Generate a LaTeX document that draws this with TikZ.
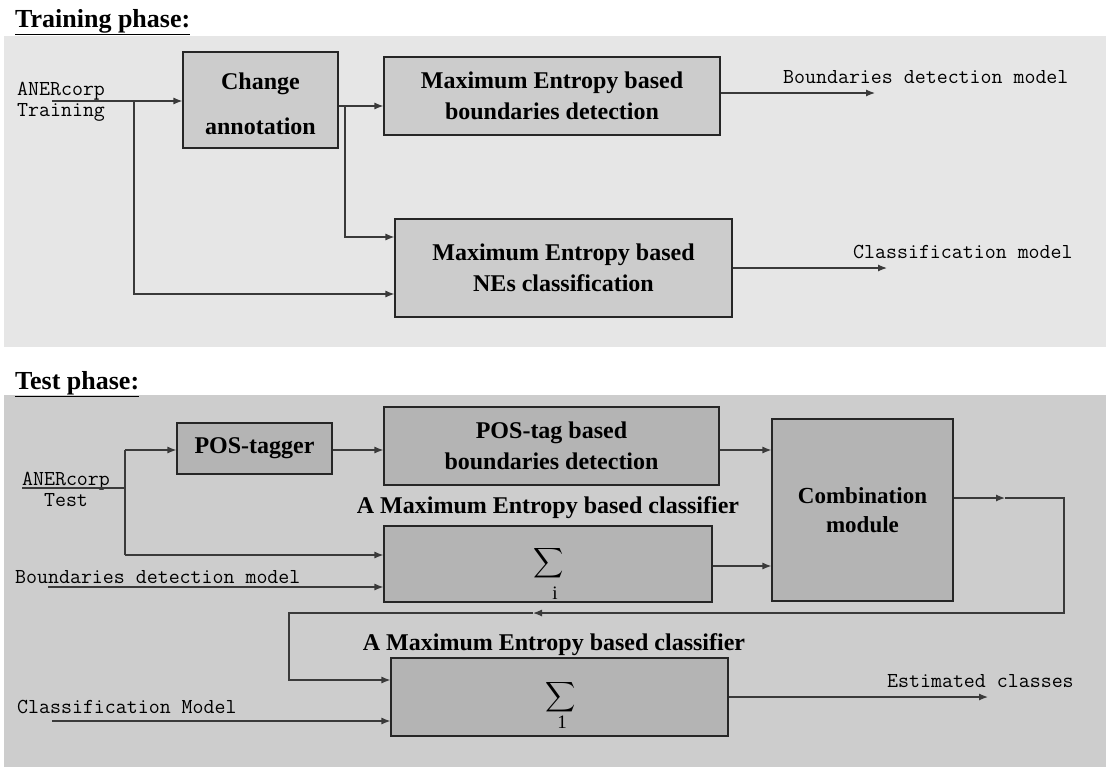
\documentclass[tikz,border=0pt]{standalone}
\usepackage{graphicx}
\usepackage{fontspec}
\setmainfont{Liberation Serif}
\usetikzlibrary{arrows.meta}

\definecolor{trainbg}{HTML}{E6E6E6}
\definecolor{trainbox}{HTML}{CCCCCC}
\definecolor{testbg}{HTML}{CDCDCD}
\definecolor{testbox}{HTML}{B4B4B4}
\definecolor{wire}{HTML}{3A3A3A}

\tikzset{
  box/.style={draw=black!85, line width=1.1pt, inner sep=0pt, align=center,
              font=\bfseries\fontsize{24}{31}\selectfont},
  trbox/.style={box, fill=trainbox},
  tsbox/.style={box, fill=testbox},
  io/.style={inner sep=0pt, font=\ttfamily\fontsize{21.3}{21}\selectfont},
  heading/.style={inner sep=0pt, anchor=base west, font=\bfseries\fontsize{26}{30}\selectfont},
  caption/.style={inner sep=0pt, font=\bfseries\fontsize{24}{28}\selectfont},
  wireline/.style={draw=wire, line width=1.2pt},
  flow/.style={wireline, -{Latex[length=9pt,width=7pt]}},
  sigmamark/.style={inner sep=0pt},
  idx/.style={inner sep=0pt, font=\fontsize{19}{19}\selectfont}
}
\newcommand{\bigsigma}{\scalebox{2.1}{$\displaystyle\sum$}}

\begin{document}
\begin{tikzpicture}[x=1pt, y=-1pt]
  \useasboundingbox (0,0) rectangle (1106,769);

  % ---------------- training phase ----------------
  \fill[trainbg] (4,36) rectangle (1106,347);
  \node[heading] (ttrain) at (15,27) {\underline{Training phase:}};

  \node[trbox, minimum width=155pt, minimum height=96pt]
    (ca) at (260.5,100)
    {\raisebox{-6pt}[\height][\depth]{\begin{tabular}{@{}c@{}}Change\\[14pt]annotation\end{tabular}}};
  \node[trbox, minimum width=336pt, minimum height=78pt]
    (mebd) at (552,96) {Maximum Entropy based\\boundaries detection};
  \node[trbox, minimum width=337pt, minimum height=98pt]
    (nec) at (563.5,268) {Maximum Entropy based\\NEs classification};

  \node[io, anchor=west, align=left] (intrain) at (17,102) {ANERcorp\\Training};
  \node[io, anchor=west] (lbd) at (783,77) {Boundaries detection model};
  \node[io, anchor=west] (lcm) at (853,252) {Classification model};

  \coordinate (ti0) at (52,101);
  \coordinate (ti1) at (134,101);
  \coordinate (ti2) at (134,294);
  \coordinate (tc1) at (345,106);
  \coordinate (tc2) at (345,237);
  \coordinate (ob) at (875,93);
  \coordinate (oc) at (887,268);

  \draw[flow] (ti0) -- (ca.west |- ti0);
  \draw[flow] (ti1) -- (ti2) -- (nec.west |- ti2);
  \draw[flow] (ca.east |- tc1) -- (mebd.west |- tc1);
  \draw[flow] (tc1) -- (tc2) -- (nec.west |- tc2);
  \draw[flow] (mebd.east |- ob) -- (ob);
  \draw[flow] (nec.east |- oc) -- (oc);

  % ---------------- test phase ----------------
  \fill[testbg] (4,395) rectangle (1106,767);
  \node[heading] (ttest) at (15,389) {\underline{Test phase:}};

  \node[tsbox, minimum width=155pt, minimum height=51pt] (pos) at (254.5,448.5) {POS-tagger};
  \node[tsbox, minimum width=335pt, minimum height=78pt]
    (ptb) at (551.5,446) {POS-tag based\\boundaries detection};
  \node[tsbox, minimum width=328pt, minimum height=76pt] (cl1) at (548,564) {};
  \node[tsbox, minimum width=181pt, minimum height=182pt, font=\bfseries\fontsize{23}{29}\selectfont]
    (cm) at (862.5,510) {Combination\\module};
  \node[tsbox, minimum width=337pt, minimum height=78pt] (cl2) at (559.5,697) {};

  \node[caption] (cap1) at (548,508) {A Maximum Entropy based classifier};
  \node[caption] (cap2) at (554,645) {A Maximum Entropy based classifier};

  \node[sigmamark] (s1) at (549,563) {\bigsigma};
  \node[idx] (i1) at (555,593) {i};
  \node[sigmamark] (s2) at (561,697) {\bigsigma};
  \node[idx] (i2) at (562,722) {1};

  \node[io, align=center] (intest) at (66,489.5) {ANERcorp\\Test};
  \node[io, anchor=west] (lbdm) at (15,577) {Boundaries detection model};
  \node[io, anchor=west] (lclm) at (17,707) {Classification Model};
  \node[io, anchor=west] (lest) at (887,681) {Estimated classes};

  \coordinate (te0) at (22,488);
  \coordinate (te1) at (125,488);
  \coordinate (te2) at (125,450);
  \coordinate (te3) at (125,555);
  \coordinate (bd0) at (48,587);
  \coordinate (cm0) at (52,721);
  \coordinate (fb0) at (1005,498);
  \coordinate (fb1) at (1064,498);
  \coordinate (fb2) at (1064,613);
  \coordinate (fb3) at (533,613);
  \coordinate (fb4) at (289,613);
  \coordinate (fb5) at (289,680);
  \coordinate (oe) at (988,697);

  \draw[wireline] (te0) -- (te1);
  \draw[wireline] (te2) -- (te3);
  \draw[flow] (te2) -- (pos.west |- te2);
  \draw[flow] (te3) -- (cl1.west |- te3);
  \draw[flow] (bd0) -- (cl1.west |- bd0);
  \draw[flow] (pos.east |- te2) -- (ptb.west |- te2);
  \draw[flow] (ptb.east |- te2) -- (cm.west |- te2);
  \draw[flow] (cl1.east |- 0,566) -- (cm.west |- 0,566);
  \draw[flow] (cm.east |- fb0) -- (fb0);
  \draw[flow] (fb0) -- (fb1) -- (fb2) -- (fb3);
  \draw[flow] (fb3) -- (fb4) -- (fb5) -- (cl2.west |- fb5);
  \draw[flow] (cm0) -- (cl2.west |- cm0);
  \draw[flow] (cl2.east |- oe) -- (oe);
\end{tikzpicture}
\end{document}
